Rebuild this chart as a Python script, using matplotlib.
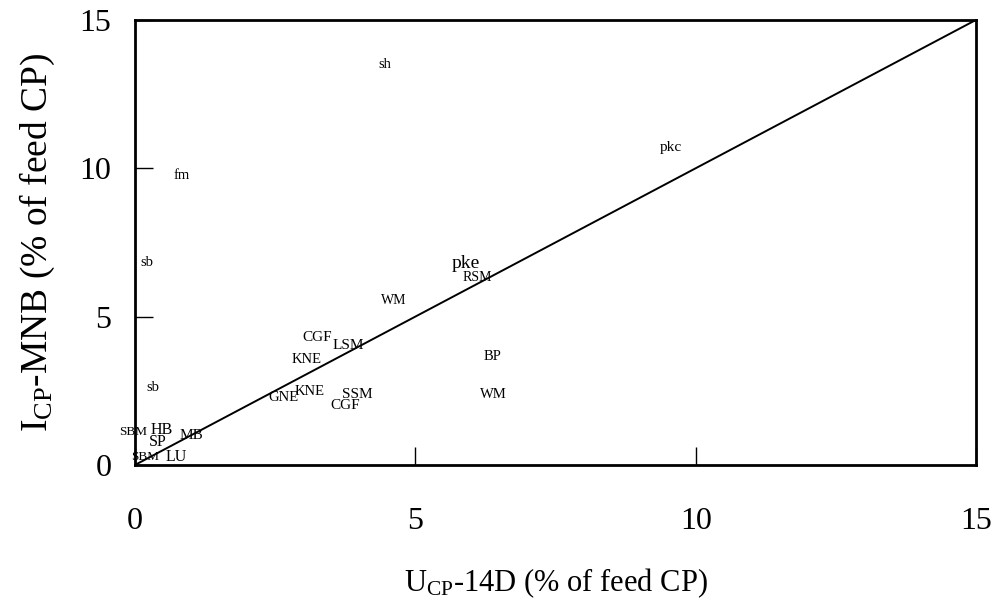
import numpy as np
import matplotlib
matplotlib.use("Agg")
import matplotlib.pyplot as plt

# -------------------------------------------------
# Data (label centres)
# -------------------------------------------------
feed_labels = ["sh", "fm", "sb", "sb", "pkc", "pke", "RSM", "WM", "CGF", "LSM",
               "KNE", "BP", "WM", "GNE", "KNE", "SSM", "CGF",
               "SBM", "HB", "SP", "MB", "SBM", "LU"]
u_cp = [4.46, 0.84, 0.21, 0.32, 9.56, 5.90, 6.10, 4.62, 3.25, 3.80,
        3.07, 6.38, 6.40, 2.64, 3.12, 3.96, 3.75,
        -0.04, 0.48, 0.41, 1.00, 0.18, 0.73]
i_cp = [13.5, 9.74, 6.84, 2.60, 10.7, 6.80, 6.33, 5.53, 4.31, 4.01,
        3.57, 3.67, 2.36, 2.26, 2.46, 2.39, 2.02,
        1.11, 1.18, 0.78, 0.98, 0.27, 0.27]
label_size = [10.5, 10.5, 10.5, 10.5, 11, 14, 10, 10, 11, 11,
              10.5, 10.5, 10.5, 10.5, 10.5, 11, 11,
              9.5, 11.5, 11.5, 11, 9.5, 11.5]

ticks = [0, 5, 10, 15]
line_x = [0, 15]
line_y = [0, 15]

plt.rcParams["font.family"] = "Liberation Serif"
plt.rcParams["mathtext.fontset"] = "custom"
plt.rcParams["mathtext.rm"] = "Liberation Serif"

fig = plt.figure(figsize=(9.96, 6.02), dpi=100)
ax = fig.add_axes([0.1355, 0.2276, 0.8445, 0.7394])

ax.plot(line_x, line_y, color="black", linewidth=1.4)

for lab, x, y, s in zip(feed_labels, u_cp, i_cp, label_size):
    ax.text(x, y, lab, fontsize=s, ha="center", va="center", color="black")

ax.set_xlim(0, 15)
ax.set_ylim(0, 15)
ax.set_xticks(ticks)
ax.set_yticks(ticks)
ax.tick_params(direction="in", length=13, width=1, labelsize=23)
ax.tick_params(axis="x", pad=30)
ax.tick_params(axis="y", pad=17)

for sp in ax.spines.values():
    sp.set_linewidth(2)

ax.set_xlabel(r"$\mathregular{U_{CP}}$-14D (% of feed CP)", fontsize=22, labelpad=22)
ax.set_ylabel(r"$\mathregular{I_{CP}}$-MNB (% of feed CP)", fontsize=27, labelpad=16)

fig.savefig("out.png", dpi=100)
